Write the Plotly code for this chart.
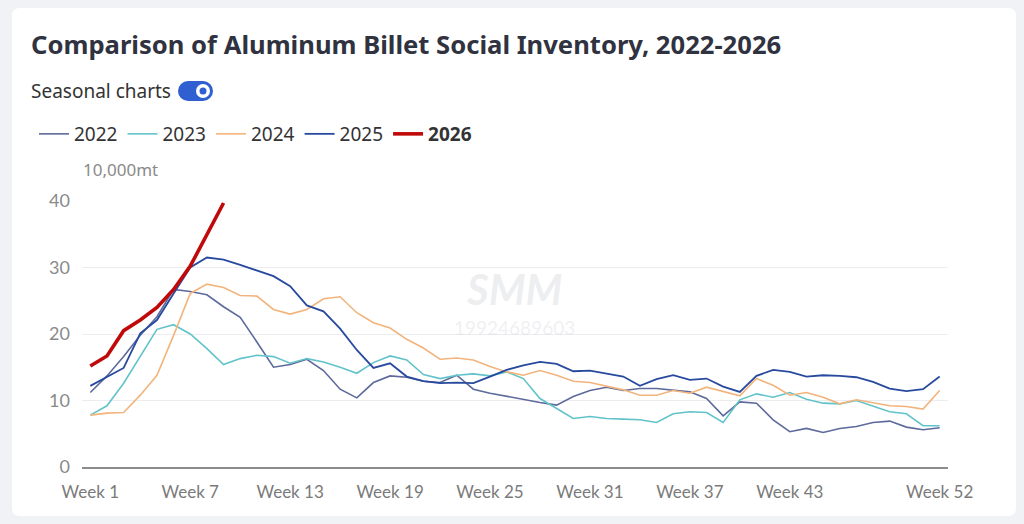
import plotly.graph_objects as go

weeks = [f"Week {i}" for i in range(1, 53)]
tick_weeks = ["Week 1", "Week 7", "Week 13", "Week 19", "Week 25", "Week 31", "Week 37", "Week 43", "Week 52"]
y_ticks = [0, 10, 20, 30, 40]

s2022 = [11.2, 13.7, 16.6, 19.8, 22.6, 26.7, 26.4, 25.9, 24.1, 22.5,
         18.8, 15.0, 15.4, 16.2, 14.5, 11.7, 10.4, 12.7, 13.7, 13.5,
         12.9, 12.7, 13.8, 11.7, 11.1, 10.6, 10.1, 9.7, 9.3, 10.6,
         11.5, 12.0, 11.5, 11.8, 11.8, 11.6, 11.3, 10.3, 7.7, 9.8,
         9.6, 7.1, 5.3, 5.8, 5.2, 5.8, 6.1, 6.7, 6.9, 6.0,
         5.6, 5.9]
s2023 = [7.8, 9.2, 12.6, 16.6, 20.7, 21.4, 20.0, 17.8, 15.4, 16.3,
         16.8, 16.6, 15.6, 16.3, 15.8, 15.0, 14.1, 15.7, 16.7, 16.1,
         13.9, 13.3, 13.8, 14.0, 13.7, 14.3, 13.3, 10.3, 8.8, 7.3,
         7.6, 7.3, 7.2, 7.1, 6.7, 8.0, 8.3, 8.2, 6.7, 10.1,
         11.0, 10.5, 11.2, 10.2, 9.6, 9.5, 10.0, 9.1, 8.3, 8.0,
         6.2, 6.2]
s2024 = [7.8, 8.1, 8.2, 10.8, 13.8, 19.8, 26.1, 27.5, 27.0, 25.8,
         25.7, 23.7, 23.0, 23.7, 25.3, 25.6, 23.2, 21.7, 20.9, 19.2,
         17.9, 16.2, 16.4, 16.1, 15.1, 14.3, 13.8, 14.5, 13.8, 12.9,
         12.7, 12.2, 11.6, 10.8, 10.8, 11.5, 11.1, 12.0, 11.4, 10.7,
         13.3, 12.3, 10.8, 11.2, 10.5, 9.5, 10.1, 9.6, 9.2, 9.1,
         8.7, 11.5]
s2025 = [12.2, 13.6, 14.9, 20.1, 22.1, 26.1, 30.0, 31.5, 31.2, 30.4,
         29.6, 28.7, 27.2, 24.3, 23.4, 20.8, 17.6, 14.9, 15.6, 13.6,
         12.9, 12.6, 12.7, 12.6, 13.6, 14.6, 15.3, 15.8, 15.5, 14.4,
         14.5, 14.1, 13.6, 12.2, 13.2, 13.8, 13.1, 13.3, 12.1, 11.3,
         13.7, 14.6, 14.3, 13.6, 13.8, 13.7, 13.5, 12.8, 11.8, 11.4,
         11.7, 13.6]
s2026 = [15.2, 16.7, 20.5, 22.1, 24.0, 26.7, 30.2, 35.0, 39.7]

series = [
    ("2022", s2022, "#5d6a9b", 1.6),
    ("2023", s2023, "#62c3ca", 1.6),
    ("2024", s2024, "#f2b47c", 1.6),
    ("2025", s2025, "#284a9e", 1.8),
    ("<b>2026</b>", s2026, "#c00a0a", 3.6),
]

W, H = 1024, 524
L, R, T, B = 82, 76, 201, 57
PW, PH = W - L - R, H - T - B


def px(x):
    return (x - L) / PW


def py(y):
    return (H - B - y) / PH


fig = go.Figure()
for name, vals, color, width in series:
    fig.add_trace(go.Scatter(
        x=weeks[:len(vals)], y=vals, name=name, mode="lines",
        line=dict(color=color, width=width),
    ))

# card background with rounded corners
cx0, cy0, cx1, cy1, r = 12, 8, 1016, 516, 8
path = (f"M {px(cx0 + r)},{py(cy0)} L {px(cx1 - r)},{py(cy0)} "
        f"Q {px(cx1)},{py(cy0)} {px(cx1)},{py(cy0 + r)} "
        f"L {px(cx1)},{py(cy1 - r)} Q {px(cx1)},{py(cy1)} {px(cx1 - r)},{py(cy1)} "
        f"L {px(cx0 + r)},{py(cy1)} Q {px(cx0)},{py(cy1)} {px(cx0)},{py(cy1 - r)} "
        f"L {px(cx0)},{py(cy0 + r)} Q {px(cx0)},{py(cy0)} {px(cx0 + r)},{py(cy0)} Z")
shapes = [dict(type="path", xref="paper", yref="paper", path=path,
               fillcolor="white", line=dict(width=0), layer="below")]

# toggle switch
tx0, tx1, ty0, ty1 = 178, 213, 81, 101
blue = "#2f5fd0"
shapes += [
    dict(type="circle", xref="paper", yref="paper", x0=px(tx0), x1=px(tx0 + 20),
         y0=py(ty1), y1=py(ty0), fillcolor=blue, line=dict(width=0)),
    dict(type="circle", xref="paper", yref="paper", x0=px(tx1 - 20), x1=px(tx1),
         y0=py(ty1), y1=py(ty0), fillcolor=blue, line=dict(width=0)),
    dict(type="rect", xref="paper", yref="paper", x0=px(tx0 + 10), x1=px(tx1 - 10),
         y0=py(ty1), y1=py(ty0), fillcolor=blue, line=dict(width=0)),
    dict(type="circle", xref="paper", yref="paper", x0=px(196), x1=px(210),
         y0=py(98), y1=py(84), fillcolor="white", line=dict(width=0)),
    dict(type="circle", xref="paper", yref="paper", x0=px(199.5), x1=px(206.5),
         y0=py(94.5), y1=py(87.5), fillcolor=blue, line=dict(width=0)),
]

annotations = [
    dict(text="<b>Comparison of Aluminum Billet Social Inventory, 2022-2026</b>",
         xref="paper", yref="paper", x=px(29), y=py(45), xanchor="left", yanchor="middle",
         showarrow=False, font=dict(family="Noto Sans", size=25.6, color="#30333f")),
    dict(text="Seasonal charts", xref="paper", yref="paper", x=px(29), y=py(91),
         xanchor="left", yanchor="middle", showarrow=False,
         font=dict(family="Noto Sans", size=19, color="#333333")),
    dict(text="10,000mt", xref="paper", yref="paper", x=px(81), y=py(169),
         xanchor="left", yanchor="middle", showarrow=False,
         font=dict(family="Noto Sans", size=17, color="#8a8a8a")),
    dict(text="<b><i>SMM</i></b>", xref="paper", yref="paper", x=px(514), y=py(289),
         xanchor="center", yanchor="middle", showarrow=False,
         font=dict(family="Lato", size=42, color="rgba(215,217,222,0.45)")),
    dict(text="19924689603", xref="paper", yref="paper", x=px(514), y=py(327),
         xanchor="center", yanchor="middle", showarrow=False,
         font=dict(family="Lato", size=19, color="rgba(215,217,222,0.4)")),
]

fig.update_layout(
    width=W, height=H,
    margin=dict(l=L, r=R, t=T, b=B),
    paper_bgcolor="#f1f2f6",
    plot_bgcolor="rgba(0,0,0,0)",
    shapes=shapes,
    annotations=annotations,
    showlegend=True,
    legend=dict(orientation="h", x=px(34), y=py(115), xanchor="left", yanchor="top",
                font=dict(family="Noto Sans", size=19, color="#333333"),
                bgcolor="rgba(0,0,0,0)", itemwidth=30, traceorder="normal"),
    xaxis=dict(type="category", categoryorder="array", categoryarray=weeks,
               range=[-0.5, 51.5], tickmode="array", tickvals=tick_weeks, ticktext=tick_weeks,
               showgrid=False, showline=True, linecolor="#8c8c8c", linewidth=1.5,
               ticks="", ticklabelstandoff=9, zeroline=False,
               tickfont=dict(family="Lato", size=17, color="#7a7a7a")),
    yaxis=dict(range=[0, 40], tickmode="array", tickvals=y_ticks, showgrid=True,
               gridcolor="#ececf1", gridwidth=1, zeroline=False, showline=False,
               ticks="", ticklabelstandoff=11,
               tickfont=dict(family="Lato", size=18, color="#8a8a8a")),
    hovermode=False,
)

fig.write_html("out.html", config={"displayModeBar": False},
               post_script="document.body.style.margin='0';document.body.style.overflow='hidden';")
